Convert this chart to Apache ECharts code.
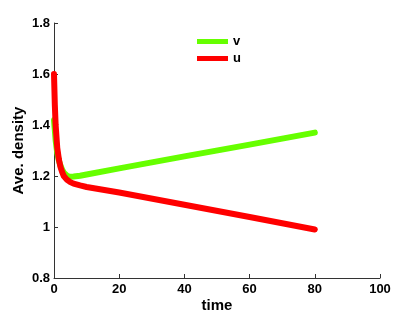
<!DOCTYPE html>
<html><head><meta charset="utf-8">
<script src="https://cdn.jsdelivr.net/npm/echarts@6/dist/echarts.min.js"></script>
<style>html,body{margin:0;padding:0;background:#fff}#c{width:420px;height:315px}</style>
</head><body><div id="c"></div>
<script>
var timeV = [0, 0.25, 0.5, 1, 1.5, 2, 2.5, 3, 4, 5, 6, 8, 10, 20, 40, 60, 80];
var vVals = [1.42, 1.38, 1.34, 1.29, 1.26, 1.24, 1.225, 1.213, 1.201, 1.197, 1.198, 1.201, 1.206, 1.23, 1.277, 1.323, 1.37];
var timeU = [0, 0.25, 0.5, 1, 1.5, 2, 2.5, 3, 4, 5, 6, 8, 10, 20, 40, 60, 80];
var uVals = [1.6, 1.48, 1.40, 1.31, 1.265, 1.235, 1.215, 1.2, 1.185, 1.176, 1.17, 1.163, 1.157, 1.135, 1.087, 1.039, 0.99];
var xTicks = [0, 20, 40, 60, 80, 100];
var yTicks = [0.8, 1.0, 1.2, 1.4, 1.6, 1.8];

function pairs(t, v){ return t.map(function(x,i){ return [x, v[i]]; }); }
var chart = echarts.init(document.getElementById('c'));
var lbl = {color:'#000', fontWeight:'bold', fontSize:13, fontFamily:'Liberation Sans, Arial, sans-serif'};
chart.setOption({
  animation:false,
  backgroundColor:'#fff',
  grid:{left:54, right:40, top:23, bottom:37, containLabel:false, outerBoundsMode:'none'},
  legend:{
    orient:'vertical', left:192, top:30, itemWidth:31, itemHeight:5, itemGap:4,
    icon:'rect',
    textStyle:{color:'#000', fontWeight:'bold', fontSize:13, fontFamily:'Liberation Sans, Arial, sans-serif'},
    data:['v','u']
  },
  xAxis:{
    type:'value', min:xTicks[0], max:xTicks[xTicks.length-1], interval:20,
    name:'time', nameLocation:'middle', nameGap:20, nameMoveOverlap:false,
    nameTextStyle:{color:'#000', fontWeight:'bold', fontSize:15, fontFamily:'Liberation Sans, Arial, sans-serif'},
    axisLine:{lineStyle:{color:'#333', width:1}},
    axisTick:{inside:true, length:4, lineStyle:{color:'#333'}},
    axisLabel:Object.assign({margin:5}, lbl),
    splitLine:{show:false}
  },
  yAxis:{
    type:'value', min:yTicks[0], max:yTicks[yTicks.length-1], interval:0.2,
    name:'Ave. density', nameLocation:'middle', nameGap:28, nameMoveOverlap:false,
    nameTextStyle:{color:'#000', fontWeight:'bold', fontSize:15, fontFamily:'Liberation Sans, Arial, sans-serif'},
    axisLine:{show:true, lineStyle:{color:'#333', width:1}},
    axisTick:{show:true, inside:true, length:4, lineStyle:{color:'#333'}},
    axisLabel:Object.assign({margin:4, formatter:function(v){return String(Math.round(v*10)/10);}}, lbl),
    splitLine:{show:false}
  },
  series:[
    {name:'v', type:'line', data:pairs(timeV, vVals), showSymbol:false, symbol:'none', color:'#66ff00',
     lineStyle:{width:6, color:'#66ff00', cap:'round', join:'round'}},
    {name:'u', type:'line', data:pairs(timeU, uVals), showSymbol:false, symbol:'none', color:'#ff0000',
     lineStyle:{width:6, color:'#ff0000', cap:'round', join:'round'}}
  ]
});
</script></body></html>
